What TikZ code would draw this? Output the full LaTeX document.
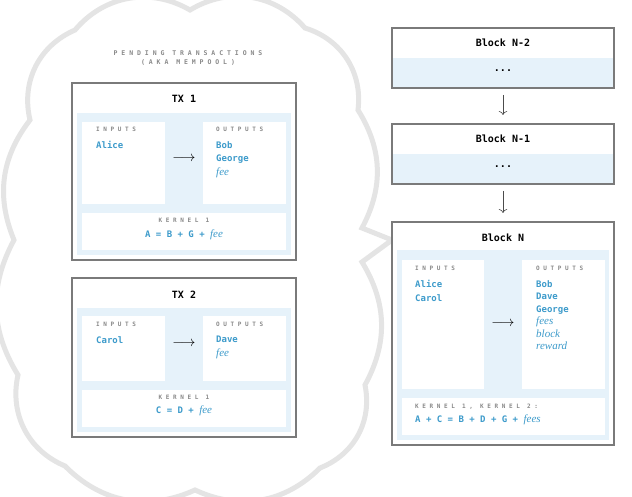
\documentclass[tikz,border=0pt]{standalone}
\usepackage{fontspec}
\usetikzlibrary{arrows.meta}
\setmainfont{DejaVu Sans Mono}
\newfontfamily\ital{Liberation Serif}
\newcommand{\myit}[1]{{\ital\itshape\mdseries\fontsize{11}{13}\selectfont #1}}
\definecolor{txt}{HTML}{3D9BCB}
\definecolor{band}{HTML}{E6F2FA}
\definecolor{frame}{HTML}{7A7A7A}
\definecolor{cloudc}{HTML}{E4E4E4}
\definecolor{lbl}{HTML}{8A8A8A}
\begin{document}
\begin{tikzpicture}[x=1pt,y=-1pt,
  outer/.style={draw=frame,line width=1.3pt,fill=white},
  bandr/.style={fill=band},
  wbox/.style={fill=white},
  ttl/.style={font=\bfseries\fontsize{10}{12}\selectfont},
  lab/.style={font=\bfseries\fontsize{6}{8}\selectfont,text=lbl,anchor=north west,inner sep=0},
  val/.style={font=\bfseries\fontsize{9}{13.5}\selectfont,text=txt,anchor=north west,inner sep=0,align=left},
  arr/.style={font=\fontsize{14}{14}\selectfont},
  varr/.style={draw=black!70,line width=0.6pt,-{To[length=4pt]}}]
\useasboundingbox (0,0) rectangle (632,497);
% cloud
\draw[cloudc,line width=5pt,fill=white]
 (30,120) to[bend left=40] (75,30) to[bend left=40] (190,10) to[bend left=40] (305,28)
 to[bend left=40] (358,110) to[bend left=30] (362,228) -- (392,240) -- (362,262)
 to[bend left=30] (365,385) to[bend left=40] (320,468) to[bend left=35] (195,490)
 to[bend left=35] (65,466) to[bend left=40] (18,375) to[bend left=30] (14,240)
 to[bend left=30] (30,120) -- cycle;
\node[font=\bfseries\fontsize{6.5}{9}\selectfont,text=lbl,align=center] (pend) at (188,58) {P E N D I N G\ \ T R A N S A C T I O N S\\( A K A\ \ M E M P O O L )};
% TX1
\draw[outer] (72,83) rectangle (296,260);
\fill[bandr] (77,113) rectangle (291,255);
\node[ttl] (t1) at (184,99) {TX 1};
\fill[wbox] (82,122) rectangle (165,204);
\fill[wbox] (203,122) rectangle (286,204);
\fill[wbox] (82,213) rectangle (286,250);
\node[lab] (i1) at (96,127) {I N P U T S};
\node[val] (iv1) at (96,141) {Alice};
\node[lab] (o1) at (216,127) {O U T P U T S};
\node[val] (ov1) at (216,141) {Bob\\George\\\myit{fee}};
\node[arr] (a1) at (184,159) {$\longrightarrow$};
\node[lab,anchor=north] (k1) at (184,218) {K E R N E L\ \ 1};
\node[val,anchor=north] (kv1) at (184,230) {A = B + G + \myit{fee}};
% TX2
\draw[outer] (72,278) rectangle (296,437);
\fill[bandr] (77,308) rectangle (291,432);
\node[ttl] (t2) at (184,295) {TX 2};
\fill[wbox] (82,316) rectangle (165,381);
\fill[wbox] (203,316) rectangle (286,381);
\fill[wbox] (82,390) rectangle (286,427);
\node[lab] (i2) at (96,322) {I N P U T S};
\node[val] (iv2) at (96,336) {Carol};
\node[lab] (o2) at (216,322) {O U T P U T S};
\node[val] (ov2) at (216,336) {Dave\\\myit{fee}};
\node[arr] (a2) at (184,344) {$\longrightarrow$};
\node[lab,anchor=north] (k2) at (184,395) {K E R N E L\ \ 1};
\node[val,anchor=north] (kv2) at (184,406) {C = D + \myit{fee}};
% blocks
\draw[outer] (392,28) rectangle (614,88);
\fill[bandr] (393,58) rectangle (613,87);
\node[ttl] (b2) at (503,43) {Block N-2};
\node[font=\bfseries] (d2) at (503,71) {...};
\draw[outer] (392,124) rectangle (614,184);
\fill[bandr] (393,154) rectangle (613,183);
\node[ttl] (b1) at (503,139) {Block N-1};
\node[font=\bfseries] (d1) at (503,167) {...};
\draw[outer] (392,222) rectangle (614,445);
\fill[bandr] (397,250) rectangle (609,440);
\node[ttl] (b0) at (503,238) {Block N};
\draw[varr] (d2.south |- 0,95) -- (503,115);
\draw[varr] (d1.south |- 0,191) -- (503,213);
\fill[wbox] (402,260) rectangle (484,389);
\fill[wbox] (522,260) rectangle (605,389);
\fill[wbox] (402,398) rectangle (605,435);
\node[lab] (i3) at (415,266) {I N P U T S};
\node[val] (iv3) at (415,280) {Alice\\Carol};
\node[lab] (o3) at (536,266) {O U T P U T S};
\node[val,font=\bfseries\fontsize{9}{12.5}\selectfont] (ov3) at (536,280) {Bob\\Dave\\George\\\myit{fees}\\\myit{block}\\\myit{reward}};
\node[arr] (a3) at (503,324) {$\longrightarrow$};
\node[lab] (k3) at (415,404) {K E R N E L\ \ 1 ,\ \ K E R N E L\ \ 2 :};
\node[val] (kv3) at (415,415) {A + C = B + D + G + \myit{fees}};
\end{tikzpicture}
\end{document}
